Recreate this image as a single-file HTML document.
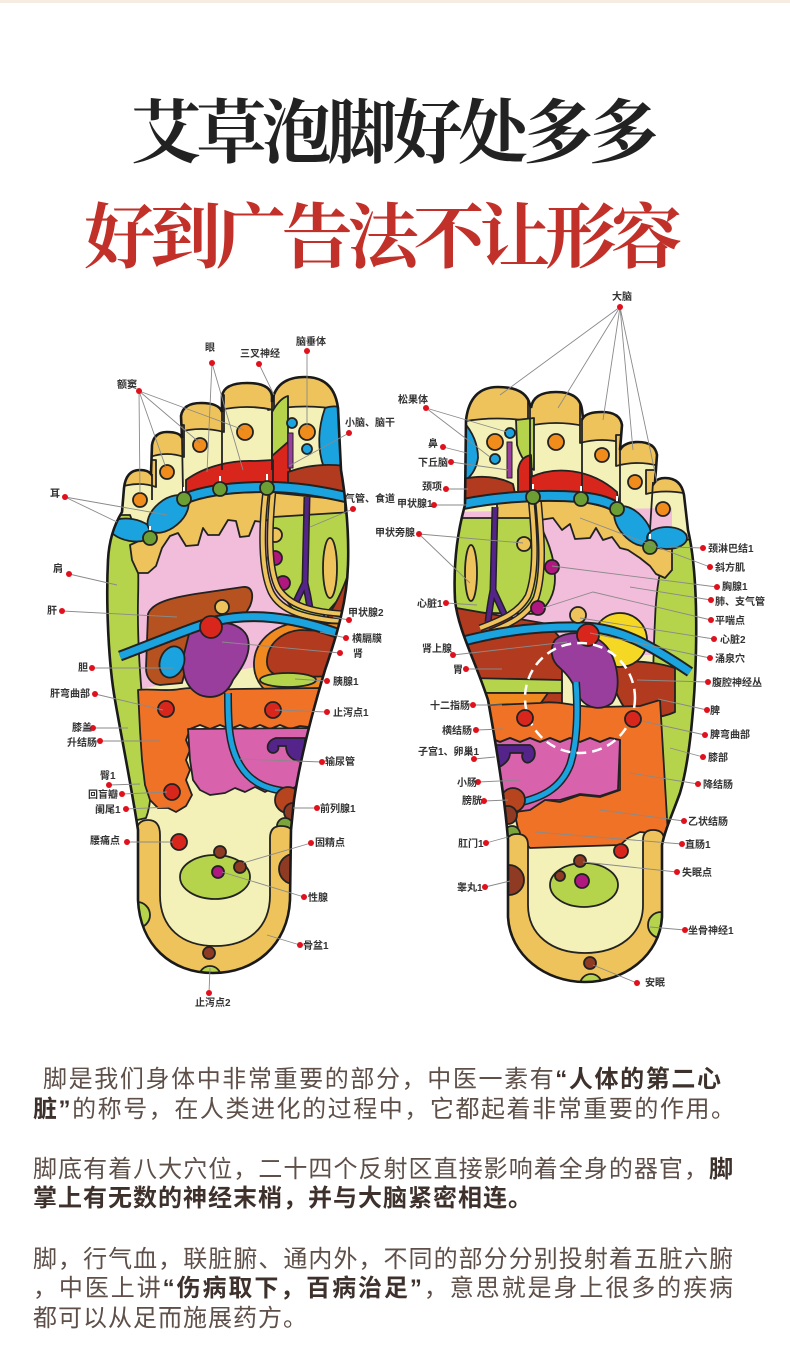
<!DOCTYPE html>
<html><head><meta charset="utf-8"><style>
html,body{margin:0;padding:0;background:#fff;}
svg{display:block;}
</style></head><body>
<svg width="790" height="1348" viewBox="0 0 790 1348" xmlns="http://www.w3.org/2000/svg">
<rect width="790" height="1348" fill="#fff"/>
<rect width="790" height="3" fill="#f6ece2"/>

<text x="131" y="157" font-family="'Liberation Serif','Noto Serif CJK SC',serif" font-weight="700" font-size="70" fill="#222" textLength="528" lengthAdjust="spacing">艾草泡脚好处多多</text>
<text x="84" y="262" font-family="'Liberation Serif','Noto Serif CJK SC',serif" font-weight="700" font-size="71" fill="#c2302a" textLength="598" lengthAdjust="spacing">好到广告法不让形容</text>

<defs>
<clipPath id="cL"><path d="M108,560 C109,540 114,525 122,512 L124,488 Q126,470 140,470 Q148,470 151,474 L152,445 Q154,432 167,432 Q180,432 182,438 L181,416 Q183,403 201,403 Q219,403 222,412 L222,396 Q224,383 247,383 Q270,383 272,396 L272,402 Q276,377 305,377 Q334,377 338,408 L341,470 C346,500 349,535 348,565 C347,600 338,632 325,670 C313,710 300,760 294,800 L291,830 L290,900 C288,945 255,973 213,973 C171,973 140,945 138,900 L138,830 C132,790 122,740 115,700 C108,660 106,600 108,560 Z"/></clipPath>
<clipPath id="cR"><path d="M465,505 C458,530 453,560 455,600 C458,630 475,660 488,700 C497,750 505,800 508,840 L508,917 C510,955 545,982 585,982 C625,982 660,955 662,917 L662,845 C665,830 672,815 680,793 C690,760 695,700 696,650 C697,600 695,560 688,530 L684,495 Q681,478 665,478 Q658,478 655,482 L657,455 Q655,442 638,442 Q624,442 620,450 L622,425 Q620,412 602,412 Q587,412 583,418 L582,410 Q580,392 556,392 Q533,392 531,408 L530,405 Q526,387 498,387 Q470,387 466,420 Z"/></clipPath>
</defs>

<!-- ================= LEFT FOOT ================= -->
<g clip-path="url(#cL)" stroke="#222" stroke-width="1.8" stroke-linejoin="round">
  <rect x="100" y="370" width="260" height="610" fill="#f4f1b8" stroke="none"/>
  <path d="M135,530 L345,505 L345,650 L135,690 Z" fill="#f2bddb" stroke="none"/>
  <path d="M268,410 Q305,403 342,410 L342,370 L268,370 Z" fill="#eec35b"/>
  <path d="M220,410 Q247,404 274,410 L274,370 L220,370 Z" fill="#eec35b"/>
  <path d="M179,432 Q201,426 224,432 L224,395 L179,395 Z" fill="#eec35b"/>
  <path d="M150,457 Q167,451 184,457 L184,425 L150,425 Z" fill="#eec35b"/>
  <path d="M120,487 Q140,481 156,487 L156,460 L120,460 Z" fill="#eec35b"/>
  <path d="M272,412 Q280,398 288,396 L288,442 L272,456 Z" fill="#b5d44b"/>
  <path d="M325,408 Q338,404 345,410 L345,468 L324,468 Q314,440 325,408 Z" fill="#1aa3de"/>
  <path d="M272,456 L288,442 L290,470 L288,492 L272,492 Z" fill="#d9261c"/>
  <path d="M288,472 Q315,462 345,466 L345,495 L288,495 Z" fill="#b23a1f"/>
  <circle cx="292" cy="423" r="5" fill="#1aa3de"/>
  <circle cx="307" cy="432" r="8" fill="#f08c1c"/>
  <circle cx="307" cy="449" r="5" fill="#1aa3de"/>
  <rect x="288" y="433" width="5" height="35" fill="#9a3e9e" stroke-width="1"/>
  <circle cx="245" cy="432" r="8" fill="#f08c1c"/>
  <circle cx="200" cy="445" r="7" fill="#f08c1c"/>
  <circle cx="167" cy="472" r="7" fill="#f08c1c"/>
  <circle cx="140" cy="500" r="7" fill="#f08c1c"/>
  <path d="M186,480 C205,466 232,460 255,461 L273,460 L273,492 L186,500 Z" fill="#d9261c"/>
  <path d="M95,515 L130,515 C138,535 139,565 138,600 C137,650 142,700 148,760 C152,790 151,805 146,818 L95,830 Z" fill="#b5d44b"/>
  <path d="M130,545 L150,536 L184,503 L220,493 L267,492 L345,500 L345,520 L300,520 L285,518 L273,518 L262,522 L255,521 L249,536 L240,537 L236,521 L228,520 L219,535 L208,535 L203,528 L198,545 L186,546 L178,533 L170,536 L162,548 L156,566 L148,573 L138,573 L132,560 Z" fill="#eec35b"/>
  <ellipse cx="131" cy="530" rx="22" ry="11" transform="rotate(10 131 530)" fill="#1aa3de"/>
  <ellipse cx="168" cy="514" rx="24" ry="14" transform="rotate(-40 168 514)" fill="#1aa3de"/>
  <path d="M273,517 L352,512 L352,560 L345,592 L322,618 L296,612 C283,600 275,580 272,560 Z" fill="#b5d44b"/>
  <path d="M353,558 L348,628 L324,622 C336,605 346,585 353,558 Z" fill="#b23a1f"/>
  <ellipse cx="330" cy="568" rx="7" ry="30" fill="#eec35b"/>
  <circle cx="275" cy="535" r="7" fill="#eec35b"/>
  <circle cx="275" cy="558" r="7" fill="#b0177f"/>
  <circle cx="283" cy="583" r="7" fill="#b0177f"/>
  <path d="M307,497 L305,583 M305,583 Q299,595 294,606 M305,583 Q308,595 310,608" fill="none" stroke="#222" stroke-width="7"/>
  <path d="M307,497 L305,583 M305,583 Q299,595 294,606 M305,583 Q308,595 310,608" fill="none" stroke="#55248a" stroke-width="4"/>
  <path d="M266,490 C261,530 261,570 271,592 C281,612 305,618 345,622 M273,490 C269,530 268,568 278,588 C289,606 312,612 345,614" fill="none" stroke="#222" stroke-width="7"/>
  <path d="M266,490 C261,530 261,570 271,592 C281,612 305,618 345,622 M273,490 C269,530 268,568 278,588 C289,606 312,612 345,614" fill="none" stroke="#eec35b" stroke-width="4"/>
  <path d="M148,614 C152,603 170,598 195,594 L243,587 C253,586 254,596 250,606 L242,620 L210,628 L192,645 L182,683 L160,685 C150,684 146,676 146,668 Z" fill="#b5521f"/>
  <path d="M350,624 L300,622 C272,625 255,642 254,662 C253,685 270,700 300,706 L350,709 Z" fill="#f08a20"/>
  <path d="M350,632 L300,630 C280,632 268,645 267,660 C266,672 275,677 290,677 L350,676 Z" fill="#b23a1f"/>
  <ellipse cx="288" cy="680" rx="28" ry="7" fill="#b5d44b"/>
  <path d="M138,690 C150,688 165,692 180,689 C200,686 215,691 235,689 L322,688 L318,728 L300,726 L290,729 L280,725 L270,729 L260,725 L250,729 L240,725 L230,729 L220,725 L210,729 L200,725 L190,729 L186,740 L190,750 L186,760 L190,770 L186,780 L192,795 L186,806 L176,812 L168,808 L158,808 L150,800 L145,785 L142,760 L140,730 Z" fill="#ef7227"/>
  <path d="M188,729 L315,728 L305,790 L295,787 L285,792 L275,787 L265,792 L255,787 L245,792 L235,788 L225,793 L210,795 L200,790 L193,780 L190,760 Z" fill="#d962ad"/>
  <path d="M305,738 L276,738 C268,740 265,748 270,752 C275,755 280,750 278,746 L286,746 C286,755 292,762 305,762 Z" fill="#55248a"/>
  <path d="M190,630 C205,620 238,618 247,636 C253,652 242,668 233,680 C227,695 214,700 200,695 C185,688 180,670 185,650 Z" fill="#9a3e9e"/>
  <ellipse cx="172" cy="662" rx="12" ry="16" transform="rotate(20 172 662)" fill="#1aa3de"/>
  <path d="M120,656 C160,641 195,626 215,621 C250,613 290,615 345,636" fill="none" stroke="#222" stroke-width="11"/>
  <path d="M120,656 C160,641 195,626 215,621 C250,613 290,615 345,636" fill="none" stroke="#1aa3de" stroke-width="7"/>
  <circle cx="222" cy="607" r="7" fill="#eec35b"/>
  <circle cx="211" cy="627" r="11" fill="#d9261c"/>
  <path d="M228,693 C228,720 228,745 240,765 C252,785 270,790 292,792" fill="none" stroke="#222" stroke-width="8"/>
  <path d="M228,693 C228,720 228,745 240,765 C252,785 270,790 292,792" fill="none" stroke="#1aa3de" stroke-width="5"/>
  <circle cx="166" cy="709" r="8" fill="#d9261c"/>
  <circle cx="273" cy="710" r="8" fill="#d9261c"/>
  <circle cx="172" cy="792" r="8" fill="#d9261c"/>
  <circle cx="288" cy="800" r="13" fill="#b5441f"/>
  <circle cx="293" cy="812" r="9" fill="#8f3a22"/>
  <circle cx="285" cy="826" r="8" fill="#7aa53a"/>
  <path d="M136,835 Q136,820 148,820 Q160,820 160,835 L160,895 C160,928 182,946 215,946 C248,946 270,928 270,895 L270,838 Q270,826 281,826 Q294,826 294,838 L294,990 L130,990 Z" fill="#eec35b"/>
  <ellipse cx="215" cy="877" rx="35" ry="22" fill="#b5d44b"/>
  <circle cx="218" cy="872" r="6" fill="#b0177f"/>
  <circle cx="220" cy="852" r="6" fill="#8f3a22"/>
  <circle cx="240" cy="867" r="6" fill="#8f3a22"/>
  <circle cx="179" cy="842" r="8" fill="#d9261c"/>
  <circle cx="294" cy="869" r="15" fill="#8f3a22"/>
  <circle cx="137" cy="915" r="13" fill="#b5d44b"/>
  <circle cx="209" cy="953" r="6" fill="#8f3a22"/>
  <circle cx="210" cy="977" r="11" fill="#b5d44b"/>
  <path d="M184,499 C205,490 235,487 267,487 C295,487 320,491 350,498" fill="none" stroke="#222" stroke-width="12"/>
  <path d="M184,499 C205,490 235,487 267,487 C295,487 320,491 350,498" fill="none" stroke="#1aa3de" stroke-width="8"/>
  <path d="M152,474 L152,500 M182,438 L183,492 M222,412 L222,470 M272,400 L272,470" fill="none"/>
  <path d="M150,526 L150,538 M184,487 L184,499 M220,476 L220,489 M267,474 L267,488" fill="none" stroke="#fff" stroke-width="2"/>
  <circle cx="150" cy="538" r="7" fill="#6d9e34"/>
  <circle cx="184" cy="499" r="7" fill="#6d9e34"/>
  <circle cx="220" cy="489" r="7" fill="#6d9e34"/>
  <circle cx="267" cy="488" r="7" fill="#6d9e34"/>
</g>
<path d="M108,560 C109,540 114,525 122,512 L124,488 Q126,470 140,470 Q148,470 151,474 L152,445 Q154,432 167,432 Q180,432 182,438 L181,416 Q183,403 201,403 Q219,403 222,412 L222,396 Q224,383 247,383 Q270,383 272,396 L272,402 Q276,377 305,377 Q334,377 338,408 L341,470 C346,500 349,535 348,565 C347,600 338,632 325,670 C313,710 300,760 294,800 L291,830 L290,900 C288,945 255,973 213,973 C171,973 140,945 138,900 L138,830 C132,790 122,740 115,700 C108,660 106,600 108,560 Z" fill="none" stroke="#1a1a1a" stroke-width="2.6"/>

<!-- ================= RIGHT FOOT ================= -->
<g clip-path="url(#cR)" stroke="#222" stroke-width="1.8" stroke-linejoin="round">
  <rect x="440" y="380" width="270" height="610" fill="#f4f1b8" stroke="none"/>
  <path d="M450,512 L672,508 L672,655 L450,655 Z" fill="#f2bddb" stroke="none"/>
  <path d="M460,422 Q498,415 534,422 L534,380 L460,380 Z" fill="#eec35b"/>
  <path d="M528,426 Q556,420 584,426 L584,385 L528,385 Z" fill="#eec35b"/>
  <path d="M580,443 Q602,437 624,443 L624,405 L580,405 Z" fill="#eec35b"/>
  <path d="M616,466 Q638,460 659,466 L659,435 L616,435 Z" fill="#eec35b"/>
  <path d="M646,494 Q665,489 688,494 L688,470 L646,470 Z" fill="#eec35b"/>
  <path d="M460,418 Q478,436 478,458 Q476,472 466,480 L458,480 L458,418 Z" fill="#1aa3de"/>
  <path d="M516,420 L534,418 L534,470 Q522,462 517,445 Z" fill="#b5d44b"/>
  <path d="M518,470 Q520,457 531,455 L533,497 L518,497 Z" fill="#d9261c"/>
  <path d="M458,480 Q490,472 513,484 L516,498 L458,502 Z" fill="#b23a1f"/>
  <circle cx="495" cy="442" r="8" fill="#f08c1c"/>
  <circle cx="510" cy="433" r="5" fill="#1aa3de"/>
  <circle cx="495" cy="459" r="5" fill="#1aa3de"/>
  <rect x="507" y="442" width="5" height="36" fill="#9a3e9e" stroke-width="1"/>
  <circle cx="556" cy="442" r="8" fill="#f08c1c"/>
  <circle cx="602" cy="455" r="7" fill="#f08c1c"/>
  <circle cx="635" cy="482" r="7" fill="#f08c1c"/>
  <circle cx="663" cy="509" r="7" fill="#f08c1c"/>
  <path d="M531,477 C555,466 590,468 617,492 L620,512 L531,502 Z" fill="#d9261c"/>
  <path d="M668,545 C660,565 656,590 655,620 C653,660 652,700 654,740 C656,780 662,815 675,835 L705,835 L705,535 Z" fill="#b5d44b"/>
  <path d="M497,503 L533,499 L581,501 L617,510 L640,530 L660,545 L672,548 L672,570 L665,578 L656,574 L650,566 L640,558 L628,550 L620,548 L612,537 L603,540 L596,528 L590,538 L575,539 L570,524 L562,530 L553,518 L540,520 L497,520 Z" fill="#eec35b"/>
  <path d="M448,518 L537,518 C545,535 555,555 555,578 C555,595 548,605 538,614 L448,612 Z" fill="#b5d44b"/>
  <path d="M445,606 L548,624 L562,640 L562,705 L445,705 Z" fill="#b23a1f"/>
  <ellipse cx="471" cy="573" rx="6" ry="28" fill="#eec35b"/>
  <path d="M495,507 L493,590 M493,590 Q490,605 488,622 M493,590 Q500,605 506,618" fill="none" stroke="#222" stroke-width="7"/>
  <path d="M495,507 L493,590 M493,590 Q490,605 488,622 M493,590 Q500,605 506,618" fill="none" stroke="#55248a" stroke-width="4"/>
  <path d="M531,497 C534,530 538,570 528,596 C518,614 500,620 480,628 M538,497 C541,530 545,570 536,598 C527,616 510,624 490,632" fill="none" stroke="#222" stroke-width="7"/>
  <path d="M531,497 C534,530 538,570 528,596 C518,614 500,620 480,628 M538,497 C541,530 545,570 536,598 C527,616 510,624 490,632" fill="none" stroke="#eec35b" stroke-width="4"/>
  <circle cx="524" cy="544" r="7" fill="#eec35b"/>
  <circle cx="552" cy="567" r="7" fill="#b0177f"/>
  <circle cx="538" cy="608" r="7" fill="#b0177f"/>
  <path d="M608,660 C630,662 650,660 675,668 L675,712 C660,719 640,719 628,712 C617,700 611,680 608,660 Z" fill="#b23a1f"/>
  <circle cx="620" cy="640" r="27" fill="#f5d824"/>
  <path d="M470,678 L562,680 L562,693 L470,693 Z" fill="#b5d44b"/>
  <path d="M470,693 L548,693 L538,707 L470,714 Z" fill="#f08a20"/>
  <path d="M470,706 L540,703 C560,700 580,708 600,707 L640,706 L660,700 L668,835 L640,832 L628,838 L620,845 L530,848 L520,838 L515,815 L525,805 L545,800 L560,802 L580,795 L600,797 L620,790 L620,740 L610,738 L600,742 L590,738 L580,742 L570,738 L560,742 L550,738 L540,742 L530,738 L520,742 L510,738 L500,742 L490,738 L470,740 Z" fill="#ef7227"/>
  <path d="M470,740 L490,738 L500,742 L510,738 L520,742 L530,738 L540,742 L550,738 L560,742 L570,738 L580,742 L590,738 L600,742 L610,738 L620,740 L618,790 L600,796 L580,794 L560,800 L545,800 L530,810 L515,812 L505,800 L470,790 Z" fill="#d962ad"/>
  <path d="M480,745 L530,745 C536,748 537,758 530,762 C525,765 520,758 523,753 L510,753 C510,762 500,770 480,772 Z" fill="#55248a"/>
  <path d="M555,640 C565,630 592,630 606,646 C618,660 622,690 612,703 C600,712 585,708 578,695 C573,682 568,675 560,668 C550,660 550,648 555,640 Z" fill="#9a3e9e"/>
  <path d="M445,646 C490,633 530,626 583,627 C620,628 650,645 690,672" fill="none" stroke="#222" stroke-width="11"/>
  <path d="M445,646 C490,633 530,626 583,627 C620,628 650,645 690,672" fill="none" stroke="#1aa3de" stroke-width="7"/>
  <circle cx="578" cy="615" r="8" fill="#eec35b"/>
  <circle cx="588" cy="635" r="11" fill="#d9261c"/>
  <path d="M576,682 C578,710 578,740 570,765 C560,790 540,798 518,803" fill="none" stroke="#222" stroke-width="8"/>
  <path d="M576,682 C578,710 578,740 570,765 C560,790 540,798 518,803" fill="none" stroke="#1aa3de" stroke-width="5"/>
  <circle cx="580" cy="698" r="55" fill="none" stroke="#fff" stroke-width="2.5" stroke-dasharray="10,6"/>
  <circle cx="525" cy="718" r="8" fill="#d9261c"/>
  <circle cx="633" cy="719" r="8" fill="#d9261c"/>
  <circle cx="513" cy="800" r="12" fill="#b5441f"/>
  <circle cx="508" cy="815" r="9" fill="#8f3a22"/>
  <circle cx="512" cy="834" r="8" fill="#7aa53a"/>
  <path d="M506,845 Q506,834 517,834 Q528,834 528,845 L528,905 C528,935 552,953 585,953 C618,953 643,935 643,905 L643,840 Q643,830 653,830 Q664,830 664,840 L664,995 L500,995 Z" fill="#eec35b"/>
  <ellipse cx="584" cy="885" rx="34" ry="22" fill="#b5d44b"/>
  <circle cx="582" cy="881" r="7" fill="#b0177f"/>
  <circle cx="560" cy="876" r="5" fill="#8f3a22"/>
  <circle cx="580" cy="861" r="6" fill="#8f3a22"/>
  <circle cx="621" cy="851" r="7" fill="#d9261c"/>
  <circle cx="509" cy="880" r="15" fill="#8f3a22"/>
  <circle cx="661" cy="925" r="13" fill="#b5d44b"/>
  <circle cx="590" cy="963" r="6" fill="#8f3a22"/>
  <circle cx="591" cy="985" r="11" fill="#b5d44b"/>
  <ellipse cx="633" cy="526" rx="24" ry="13" transform="rotate(48 633 526)" fill="#1aa3de"/>
  <ellipse cx="667" cy="538" rx="20" ry="11" fill="#1aa3de"/>
  <path d="M450,507 C490,497 540,494 580,497 C600,499 612,503 620,510" fill="none" stroke="#222" stroke-width="12"/>
  <path d="M450,507 C490,497 540,494 580,497 C600,499 612,503 620,510" fill="none" stroke="#1aa3de" stroke-width="8"/>
  <path d="M530,405 L530,495 M582,418 L582,497 M620,450 L620,505 M653,482 L650,530" fill="none"/>
  <path d="M533,484 L533,497 M581,486 L581,499 M617,496 L617,509 M650,534 L650,547" fill="none" stroke="#fff" stroke-width="2"/>
  <circle cx="533" cy="497" r="7" fill="#6d9e34"/>
  <circle cx="581" cy="499" r="7" fill="#6d9e34"/>
  <circle cx="617" cy="509" r="7" fill="#6d9e34"/>
  <circle cx="650" cy="547" r="7" fill="#6d9e34"/>
</g>
<path d="M465,505 C458,530 453,560 455,600 C458,630 475,660 488,700 C497,750 505,800 508,840 L508,917 C510,955 545,982 585,982 C625,982 660,955 662,917 L662,845 C665,830 672,815 680,793 C690,760 695,700 696,650 C697,600 695,560 688,530 L684,495 Q681,478 665,478 Q658,478 655,482 L657,455 Q655,442 638,442 Q624,442 620,450 L622,425 Q620,412 602,412 Q587,412 583,418 L582,410 Q580,392 556,392 Q533,392 531,408 L530,405 Q526,387 498,387 Q470,387 466,420 Z" fill="none" stroke="#1a1a1a" stroke-width="2.6"/>

<!-- ================= CONNECTORS ================= -->
<path fill="none" stroke="#8a8a8a" stroke-width="0.9" d="
M139,391 L140,493 M139,391 L166,468 M139,391 L200,443 M139,391 L244,430
M212,363 L207,472 M212,363 L243,470 M259,364 L274,395 M307,351 L307,428
M349,433 L289,466 M65,497 L117,522 M65,497 L167,515 M353,509 L310,527
M69,574 L117,585 M62,611 L177,617 M349,620 L333,617 M346,638 L320,632
M340,653 L222,642 M92,668 L173,668 M327,681 L295,679 M95,694 L163,710
M327,712 L275,710 M93,728 L128,728 M100,741 L160,741 M322,762 L240,759
M109,785 L140,784 M122,794 L167,792 M126,809 L170,807 M317,808 L293,808
M127,842 L173,842 M311,843 L243,863 M304,897 L222,872 M300,945 L267,935
M209,993 L210,968
M620,307 L500,395 M620,307 L558,408 M620,307 L603,420 M620,307 L633,450 M620,307 L657,482
M426,408 L507,432 M426,408 L490,457 M443,447 L467,453 M451,462 L508,470
M446,489 L468,489 M434,505 L467,505 M419,534 L523,543 M419,534 L470,583
M446,603 L477,605 M453,655 L567,642 M703,548 L670,547 M710,567 L580,518
M717,587 L552,566 M711,600 L630,587 M711,620 L593,592 L543,608 M714,639 L580,618
M710,658 L590,633 M466,669 L502,669 M708,682 L637,680 M473,705 L502,705
M707,710 L658,699 M476,730 L503,729 M705,735 L642,721 M474,759 L495,757
M703,757 L670,748 M478,782 L520,780 M698,784 L630,773 M484,801 L508,800
M684,821 L600,810 M486,843 L508,837 M682,844 L535,832 M677,872 L583,862
M485,887 L510,881 M685,930 L650,927 M637,983 L593,965"/>

<g fill="#e0101c">
<circle cx="139" cy="391" r="3"/><circle cx="212" cy="363" r="3"/><circle cx="259" cy="364" r="3"/><circle cx="307" cy="351" r="3"/>
<circle cx="349" cy="433" r="3"/><circle cx="65" cy="497" r="3"/><circle cx="353" cy="509" r="3"/><circle cx="69" cy="574" r="3"/>
<circle cx="62" cy="611" r="3"/><circle cx="349" cy="620" r="3"/><circle cx="346" cy="638" r="3"/><circle cx="340" cy="653" r="3"/>
<circle cx="92" cy="668" r="3"/><circle cx="327" cy="681" r="3"/><circle cx="95" cy="694" r="3"/><circle cx="327" cy="712" r="3"/>
<circle cx="93" cy="728" r="3"/><circle cx="100" cy="741" r="3"/><circle cx="322" cy="762" r="3"/><circle cx="109" cy="785" r="3"/>
<circle cx="122" cy="794" r="3"/><circle cx="126" cy="809" r="3"/><circle cx="317" cy="808" r="3"/><circle cx="127" cy="842" r="3"/>
<circle cx="311" cy="843" r="3"/><circle cx="304" cy="897" r="3"/><circle cx="300" cy="945" r="3"/><circle cx="209" cy="993" r="3"/>
<circle cx="620" cy="307" r="3"/><circle cx="426" cy="408" r="3"/><circle cx="443" cy="447" r="3"/><circle cx="451" cy="462" r="3"/>
<circle cx="446" cy="489" r="3"/><circle cx="434" cy="505" r="3"/><circle cx="419" cy="534" r="3"/><circle cx="446" cy="603" r="3"/>
<circle cx="453" cy="655" r="3"/><circle cx="466" cy="669" r="3"/><circle cx="473" cy="705" r="3"/><circle cx="476" cy="730" r="3"/>
<circle cx="474" cy="759" r="3"/><circle cx="478" cy="782" r="3"/><circle cx="484" cy="801" r="3"/><circle cx="486" cy="843" r="3"/>
<circle cx="485" cy="887" r="3"/><circle cx="703" cy="548" r="3"/><circle cx="710" cy="567" r="3"/><circle cx="717" cy="587" r="3"/>
<circle cx="711" cy="600" r="3"/><circle cx="711" cy="620" r="3"/><circle cx="714" cy="639" r="3"/><circle cx="710" cy="658" r="3"/>
<circle cx="708" cy="682" r="3"/><circle cx="707" cy="710" r="3"/><circle cx="705" cy="735" r="3"/><circle cx="703" cy="757" r="3"/>
<circle cx="698" cy="784" r="3"/><circle cx="684" cy="821" r="3"/><circle cx="682" cy="844" r="3"/><circle cx="677" cy="872" r="3"/>
<circle cx="685" cy="930" r="3"/><circle cx="637" cy="983" r="3"/>
</g>

<g font-family="'Liberation Sans','Noto Sans CJK SC',sans-serif" font-size="10" font-weight="bold" fill="#333">
<text x="205" y="351">眼</text>
<text x="240" y="357">三叉神经</text>
<text x="296" y="345">脑垂体</text>
<text x="117" y="388">额窦</text>
<text x="345" y="426">小脑、脑干</text>
<text x="50" y="497">耳</text>
<text x="345" y="502">气管、食道</text>
<text x="53" y="572">肩</text>
<text x="47" y="614">肝</text>
<text x="348" y="616">甲状腺2</text>
<text x="352" y="642">横膈膜</text>
<text x="353" y="657">肾</text>
<text x="78" y="671">胆</text>
<text x="333" y="685">胰腺1</text>
<text x="50" y="697">肝弯曲部</text>
<text x="333" y="716">止泻点1</text>
<text x="72" y="731">膝盖</text>
<text x="67" y="746">升结肠</text>
<text x="325" y="765">输尿管</text>
<text x="100" y="779">臀1</text>
<text x="88" y="798">回盲瓣</text>
<text x="95" y="813">阑尾1</text>
<text x="320" y="812">前列腺1</text>
<text x="90" y="844">腰痛点</text>
<text x="315" y="846">固精点</text>
<text x="308" y="901">性腺</text>
<text x="303" y="949">骨盆1</text>
<text x="195" y="1006">止泻点2</text>
<text x="612" y="300">大脑</text>
<text x="398" y="403">松果体</text>
<text x="428" y="447">鼻</text>
<text x="418" y="466">下丘脑</text>
<text x="422" y="490">颈项</text>
<text x="397" y="507">甲状腺1</text>
<text x="375" y="536">甲状旁腺</text>
<text x="417" y="607">心脏1</text>
<text x="422" y="652">肾上腺</text>
<text x="453" y="673">胃</text>
<text x="430" y="709">十二指肠</text>
<text x="442" y="734">横结肠</text>
<text x="418" y="755">子宫1、卵巢1</text>
<text x="457" y="786">小肠</text>
<text x="462" y="804">膀胱</text>
<text x="458" y="847">肛门1</text>
<text x="457" y="891">睾丸1</text>
<text x="708" y="552">颈淋巴结1</text>
<text x="715" y="571">斜方肌</text>
<text x="722" y="590">胸腺1</text>
<text x="715" y="605">肺、支气管</text>
<text x="715" y="624">平喘点</text>
<text x="720" y="643">心脏2</text>
<text x="715" y="662">涌泉穴</text>
<text x="712" y="686">腹腔神经丛</text>
<text x="710" y="714">脾</text>
<text x="710" y="738">脾弯曲部</text>
<text x="708" y="761">膝部</text>
<text x="703" y="788">降结肠</text>
<text x="688" y="825">乙状结肠</text>
<text x="685" y="848">直肠1</text>
<text x="682" y="876">失眠点</text>
<text x="688" y="934">坐骨神经1</text>
<text x="645" y="986">安眠</text>
</g>

<!-- ================= BODY TEXT ================= -->
<g font-family="'Liberation Sans','Noto Sans CJK SC',sans-serif" font-size="24" fill="#5e4f48" letter-spacing="1">
<text x="43" y="1087" textLength="679" lengthAdjust="spacing">脚是我们身体中非常重要的部分，中医一素有<tspan font-weight="bold" fill="#3e312c">“人体的第二心</tspan></text>
<text x="33" y="1117" textLength="703" lengthAdjust="spacing"><tspan font-weight="bold" fill="#3e312c">脏”</tspan>的称号，在人类进化的过程中，它都起着非常重要的作用。</text>
<text x="33" y="1177" textLength="701" lengthAdjust="spacing">脚底有着八大穴位，二十四个反射区直接影响着全身的器官，<tspan font-weight="bold" fill="#3e312c">脚</tspan></text>
<text x="33" y="1206" font-weight="bold" fill="#3e312c">掌上有无数的神经末梢，并与大脑紧密相连。</text>
<text x="33" y="1267" textLength="701" lengthAdjust="spacing">脚，行气血，联脏腑、通内外，不同的部分分别投射着五脏六腑</text>
<text x="33" y="1296" textLength="701" lengthAdjust="spacing">，中医上讲<tspan font-weight="bold" fill="#3e312c">“伤病取下，百病治足”</tspan>，意思就是身上很多的疾病</text>
<text x="33" y="1326">都可以从足而施展药方。</text>
</g>
</svg>
</body></html>
